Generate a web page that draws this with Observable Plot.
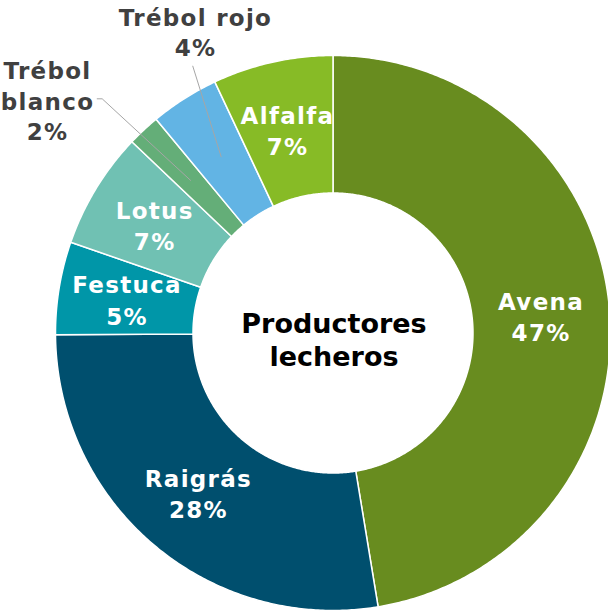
<!DOCTYPE html>
<html>
<head>
<meta charset="utf-8">
<script src="https://cdn.jsdelivr.net/npm/d3@7"></script>
<script src="https://cdn.jsdelivr.net/npm/@observablehq/plot@0.6"></script>
<style>
  html, body { margin: 0; padding: 0; background: #fff; overflow: hidden; }
  #chart svg { display: block; }
  .slice-label text { letter-spacing: 1.3px; }
</style>
</head>
<body>
<div id="chart"></div>
<script>
// ---- data ----
const categories = ["Avena", "Raigrás", "Festuca", "Lotus", "Trébol blanco", "Trébol rojo", "Alfalfa"];
const values = [47.4, 27.5, 5.4, 6.8, 1.9, 4.0, 7.0];
const colors = ["#688c1f", "#004f6e", "#0096a8", "#70c1b3", "#64ae78", "#62b4e4", "#87bb26"];
const labelNames = ["Avena", "Raigrás", "Festuca", "Lotus", "Trébol\nblanco", "Trébol rojo", "Alfalfa"];
const outside = ["Trébol blanco", "Trébol rojo"];
const centerTitle = "Productores\nlecheros";

// ---- layout ----
const W = 608, H = 611;
const cx = 332.5, cy = 332.5, R = 277.5, r0 = 140;
const total = d3.sum(values);
const pt = (a, rad) => [cx + rad * Math.sin(a), cy - rad * Math.cos(a)];

let acc = 0;
const slices = categories.map((c, i) => {
  const a0 = acc / total * 2 * Math.PI;
  acc += values[i];
  const a1 = acc / total * 2 * Math.PI;
  return {name: c, value: values[i], a0, a1, mid: (a0 + a1) / 2, label: labelNames[i]};
});

const poly = [];
for (const s of slices) {
  const n = Math.max(4, Math.ceil((s.a1 - s.a0) / (Math.PI / 360)));
  for (let k = 0; k <= n; k++) {
    const a = s.a0 + (s.a1 - s.a0) * k / n;
    const [x, y] = pt(a, R);
    poly.push({name: s.name, x, y});
  }
  for (let k = n; k >= 0; k--) {
    const a = s.a0 + (s.a1 - s.a0) * k / n;
    const [x, y] = pt(a, r0);
    poly.push({name: s.name, x, y});
  }
}

const rl = (R + r0) / 2;
const inside = slices.filter(s => !outside.includes(s.name)).map(s => {
  const [x, y] = pt(s.mid, rl);
  return {x, y, text: `${s.label}\n${Math.round(s.value)}%`};
});

// outside label anchors (pixel positions) and leader lines
const outPos = {"Trébol blanco": [47, 99.5], "Trébol rojo": [195, 30.5]};
const outLabels = slices.filter(s => outside.includes(s.name)).map(s => ({
  x: outPos[s.name][0], y: outPos[s.name][1], text: `${s.label}\n${Math.round(s.value)}%`
}));
const leaders = [];
{
  const sb = slices.find(s => s.name === "Trébol blanco");
  const [ex, ey] = pt(sb.mid, rl);
  leaders.push({id: "b", x: 96.7, y: 98.3}, {id: "b", x: 101.7, y: 98.3}, {id: "b", x: ex, y: ey});
  const sr = slices.find(s => s.name === "Trébol rojo");
  const [fx, fy] = pt(sr.mid, rl);
  leaders.push({id: "r", x: 192.3, y: 65.7}, {id: "r", x: fx, y: fy});
}

const font = "'DejaVu Sans', Verdana, sans-serif";

const chart = Plot.plot({
  width: W,
  height: H,
  margin: 0,
  x: {domain: [0, W], range: [0, W], axis: null},
  y: {domain: [0, H], range: [0, H], axis: null},
  color: {domain: categories, range: colors},
  style: {fontFamily: font, background: "#fff"},
  marks: [
    Plot.line(poly, {x: "x", y: "y", z: "name", fill: "name", stroke: "#fff", strokeWidth: 1.5, curve: "linear-closed"}),
    Plot.line(leaders, {x: "x", y: "y", z: "id", stroke: "#a6a6a6", strokeWidth: 1}),
    Plot.text(inside, {x: "x", y: "y", text: "text", fill: "#fff", fontSize: 23, fontWeight: "bold", lineHeight: 1.35, fontFamily: font, className: "slice-label"}),
    Plot.text(outLabels, {x: "x", y: "y", text: "text", fill: "#404040", fontSize: 23, fontWeight: "bold", lineHeight: 1.32, fontFamily: font, className: "slice-label"}),
    Plot.text([centerTitle], {x: () => cx + 1, y: () => cy + 6, text: d => d, fill: "#000", fontSize: 27, fontWeight: "bold", lineHeight: 1.22, fontFamily: font})
  ]
});
document.getElementById("chart").appendChild(chart);
</script>
</body>
</html>
